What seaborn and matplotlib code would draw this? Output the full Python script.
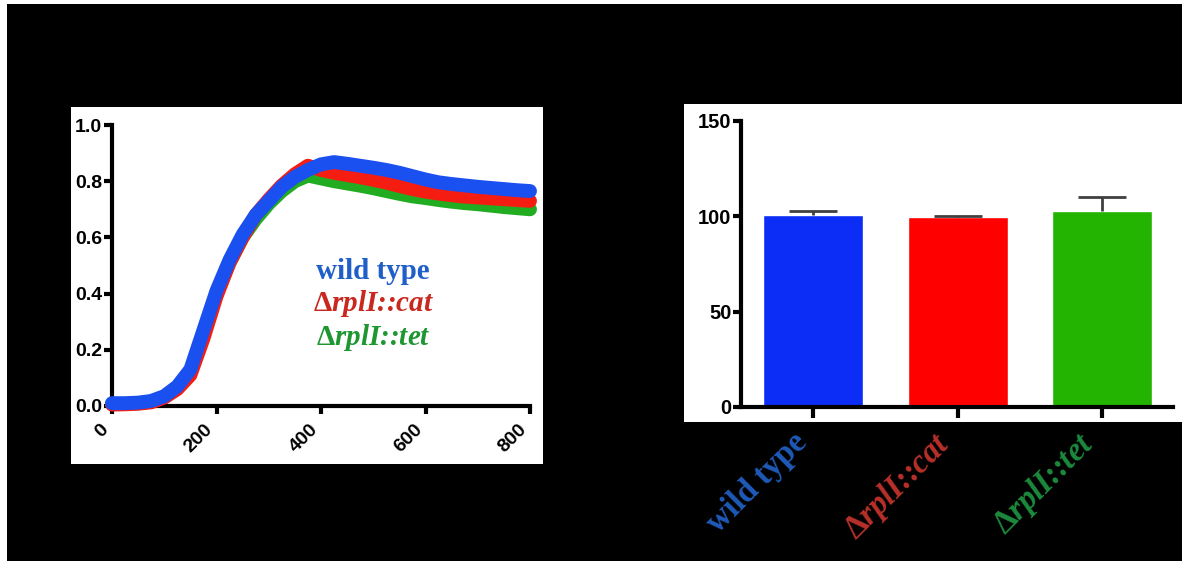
import numpy as np
import pandas as pd
import matplotlib
matplotlib.use("Agg")
import matplotlib.pyplot as plt
from matplotlib.patches import Rectangle
import seaborn as sns

# ---------------- data ----------------
time = [0, 25, 50, 75, 100, 125, 150, 175, 200, 225, 250, 275, 300, 325, 350, 375, 400,
        425, 450, 475, 500, 525, 550, 575, 600, 625, 650, 675, 700, 725, 750, 775, 800]
od_wild = [0.010, 0.010, 0.012, 0.018, 0.035, 0.070, 0.130, 0.270, 0.410, 0.520, 0.610,
           0.680, 0.730, 0.780, 0.815, 0.840, 0.860, 0.868, 0.862, 0.855, 0.848, 0.840,
           0.830, 0.818, 0.806, 0.796, 0.790, 0.785, 0.780, 0.776, 0.772, 0.768, 0.765]
od_cat = [0.005, 0.006, 0.008, 0.013, 0.030, 0.060, 0.110, 0.240, 0.390, 0.510, 0.600,
          0.680, 0.735, 0.785, 0.825, 0.855, 0.840, 0.830, 0.822, 0.814, 0.805, 0.795,
          0.783, 0.772, 0.763, 0.756, 0.750, 0.745, 0.742, 0.739, 0.736, 0.733, 0.730]
od_tet = [0.008, 0.008, 0.010, 0.015, 0.032, 0.065, 0.120, 0.260, 0.400, 0.510, 0.600,
          0.665, 0.720, 0.765, 0.800, 0.820, 0.810, 0.800, 0.792, 0.784, 0.775, 0.765,
          0.755, 0.746, 0.740, 0.733, 0.727, 0.722, 0.718, 0.713, 0.708, 0.704, 0.700]

strains = ["wild type", r"$\Delta$rplI::cat", r"$\Delta$rplI::tet"]
bar_means = [100.5, 99.5, 103.0]
bar_err = [2.5, 0.5, 7.0]

line_x_ticks = [0, 200, 400, 600, 800]
line_y_ticks = [0.0, 0.2, 0.4, 0.6, 0.8, 1.0]
bar_y_ticks = [0, 50, 100, 150]

# ---------------- style ----------------
sns.set_style("ticks")
plt.rcParams["font.family"] = ["Liberation Sans", "DejaVu Sans"]
plt.rcParams["mathtext.fontset"] = "custom"
plt.rcParams["mathtext.rm"] = "Liberation Serif:bold"
plt.rcParams["mathtext.it"] = "Liberation Serif:italic:bold"
plt.rcParams["mathtext.bf"] = "Liberation Serif:bold"

line_colors = {"wild type": "#1a50f0", strains[1]: "#f51d12", strains[2]: "#22ac22"}
bar_colors = ["#0b2df5", "#ff0000", "#22b400"]
text_colors = ["#1f5fc8", "#c8281e", "#1e9632"]
label_colors = ["#1f5ab8", "#b8302a", "#1c8a3c"]

W, H = 1182, 561
fig = plt.figure(figsize=(W / 100, H / 100), dpi=100, facecolor="white")

# black background with thin white border on left/top
fig.add_artist(Rectangle((7 / W, 0), 1 - 7 / W, 1 - 4 / H, transform=fig.transFigure,
                         facecolor="black", edgecolor="none", zorder=-3))
# white panels
fig.add_artist(Rectangle((71 / W, 1 - 464 / H), 472 / W, 357 / H, transform=fig.transFigure,
                         facecolor="white", edgecolor="none", zorder=-2))
fig.add_artist(Rectangle((684 / W, 1 - 422 / H), (W - 684) / W, 318 / H, transform=fig.transFigure,
                         facecolor="white", edgecolor="none", zorder=-2))

# ---------------- left: growth curves ----------------
ax1 = fig.add_axes([112 / W, 1 - 406 / H, 418 / W, 281 / H])
ax1.set_facecolor("none")
df = pd.DataFrame({
    "time": time * 3,
    "od": od_tet + od_cat + od_wild,
    "strain": [strains[2]] * len(time) + [strains[1]] * len(time) + [strains[0]] * len(time),
})
sns.lineplot(data=df, x="time", y="od", hue="strain",
             hue_order=[strains[2], strains[1], strains[0]],
             palette=line_colors, linewidth=10, solid_capstyle="round",
             legend=False, ax=ax1, clip_on=False, zorder=3)
ax1.set_xlim(0, 800)
ax1.set_ylim(0, 1.0)
ax1.set_xticks(line_x_ticks)
ax1.set_yticks(line_y_ticks)
ax1.set_xticklabels([str(v) for v in line_x_ticks], rotation=45, ha="right",
                    fontsize=14, fontweight="bold")
ax1.set_yticklabels([f"{v:.1f}" for v in line_y_ticks], fontsize=14, fontweight="bold")
ax1.set_xlabel("")
ax1.set_ylabel("")
for s in ["top", "right"]:
    ax1.spines[s].set_visible(False)
for s in ["left", "bottom"]:
    ax1.spines[s].set_linewidth(3)
    ax1.spines[s].set_color("black")
ax1.tick_params(axis="y", direction="out", length=6, width=3, color="black",
                labelcolor="black", pad=1)
ax1.tick_params(axis="x", direction="out", length=6, width=3, color="black",
                labelcolor="black", pad=5)

# legend-like text
leg_y = [0.477, 0.365, 0.245]
for i, name in enumerate(strains):
    ax1.text(0.625, leg_y[i], name, transform=ax1.transAxes, ha="center", va="center",
             fontsize=21, fontweight="bold", family="Liberation Serif",
             fontstyle="normal" if i == 0 else "italic", color=text_colors[i])

# ---------------- right: bar chart ----------------
ax2 = fig.add_axes([741 / W, 1 - 407 / H, 432 / W, 286 / H])
ax2.set_facecolor("none")
sns.barplot(x=strains, y=bar_means, hue=strains, palette=bar_colors, legend=False,
            width=0.69, saturation=1, ax=ax2, zorder=2)
eb = ax2.errorbar(x=list(range(len(strains))), y=bar_means,
                  yerr=[np.zeros(len(bar_err)), bar_err], fmt="none",
                  ecolor="#404040", elinewidth=2, capsize=17, capthick=2, zorder=3)
# keep only the upper caps
for cap in eb[1]:
    if np.allclose(cap.get_ydata(), bar_means):
        cap.set_visible(False)
ax2.set_xlim(-0.5, 2.49)
ax2.set_ylim(0, 150)
ax2.set_yticks(bar_y_ticks)
ax2.set_yticklabels([str(v) for v in bar_y_ticks], fontsize=14.5, fontweight="bold")
ax2.set_xticks(range(len(strains)))
ax2.set_xticklabels(strains, rotation=45, ha="right", fontsize=23.5,
                    family="Liberation Serif", fontweight="bold")
for i, lab in enumerate(ax2.get_xticklabels()):
    lab.set_color(label_colors[i])
    lab.set_fontstyle("normal" if i == 0 else "italic")
ax2.set_xlabel("")
ax2.set_ylabel("")
for s in ["top", "right"]:
    ax2.spines[s].set_visible(False)
for s in ["left", "bottom"]:
    ax2.spines[s].set_linewidth(3)
    ax2.spines[s].set_color("black")
ax2.tick_params(axis="y", direction="out", length=6, width=3, color="black",
                labelcolor="black", pad=1)
ax2.tick_params(axis="x", direction="out", length=8, width=3, color="black", pad=6)

fig.savefig("out.png", dpi=100, facecolor=fig.get_facecolor())
